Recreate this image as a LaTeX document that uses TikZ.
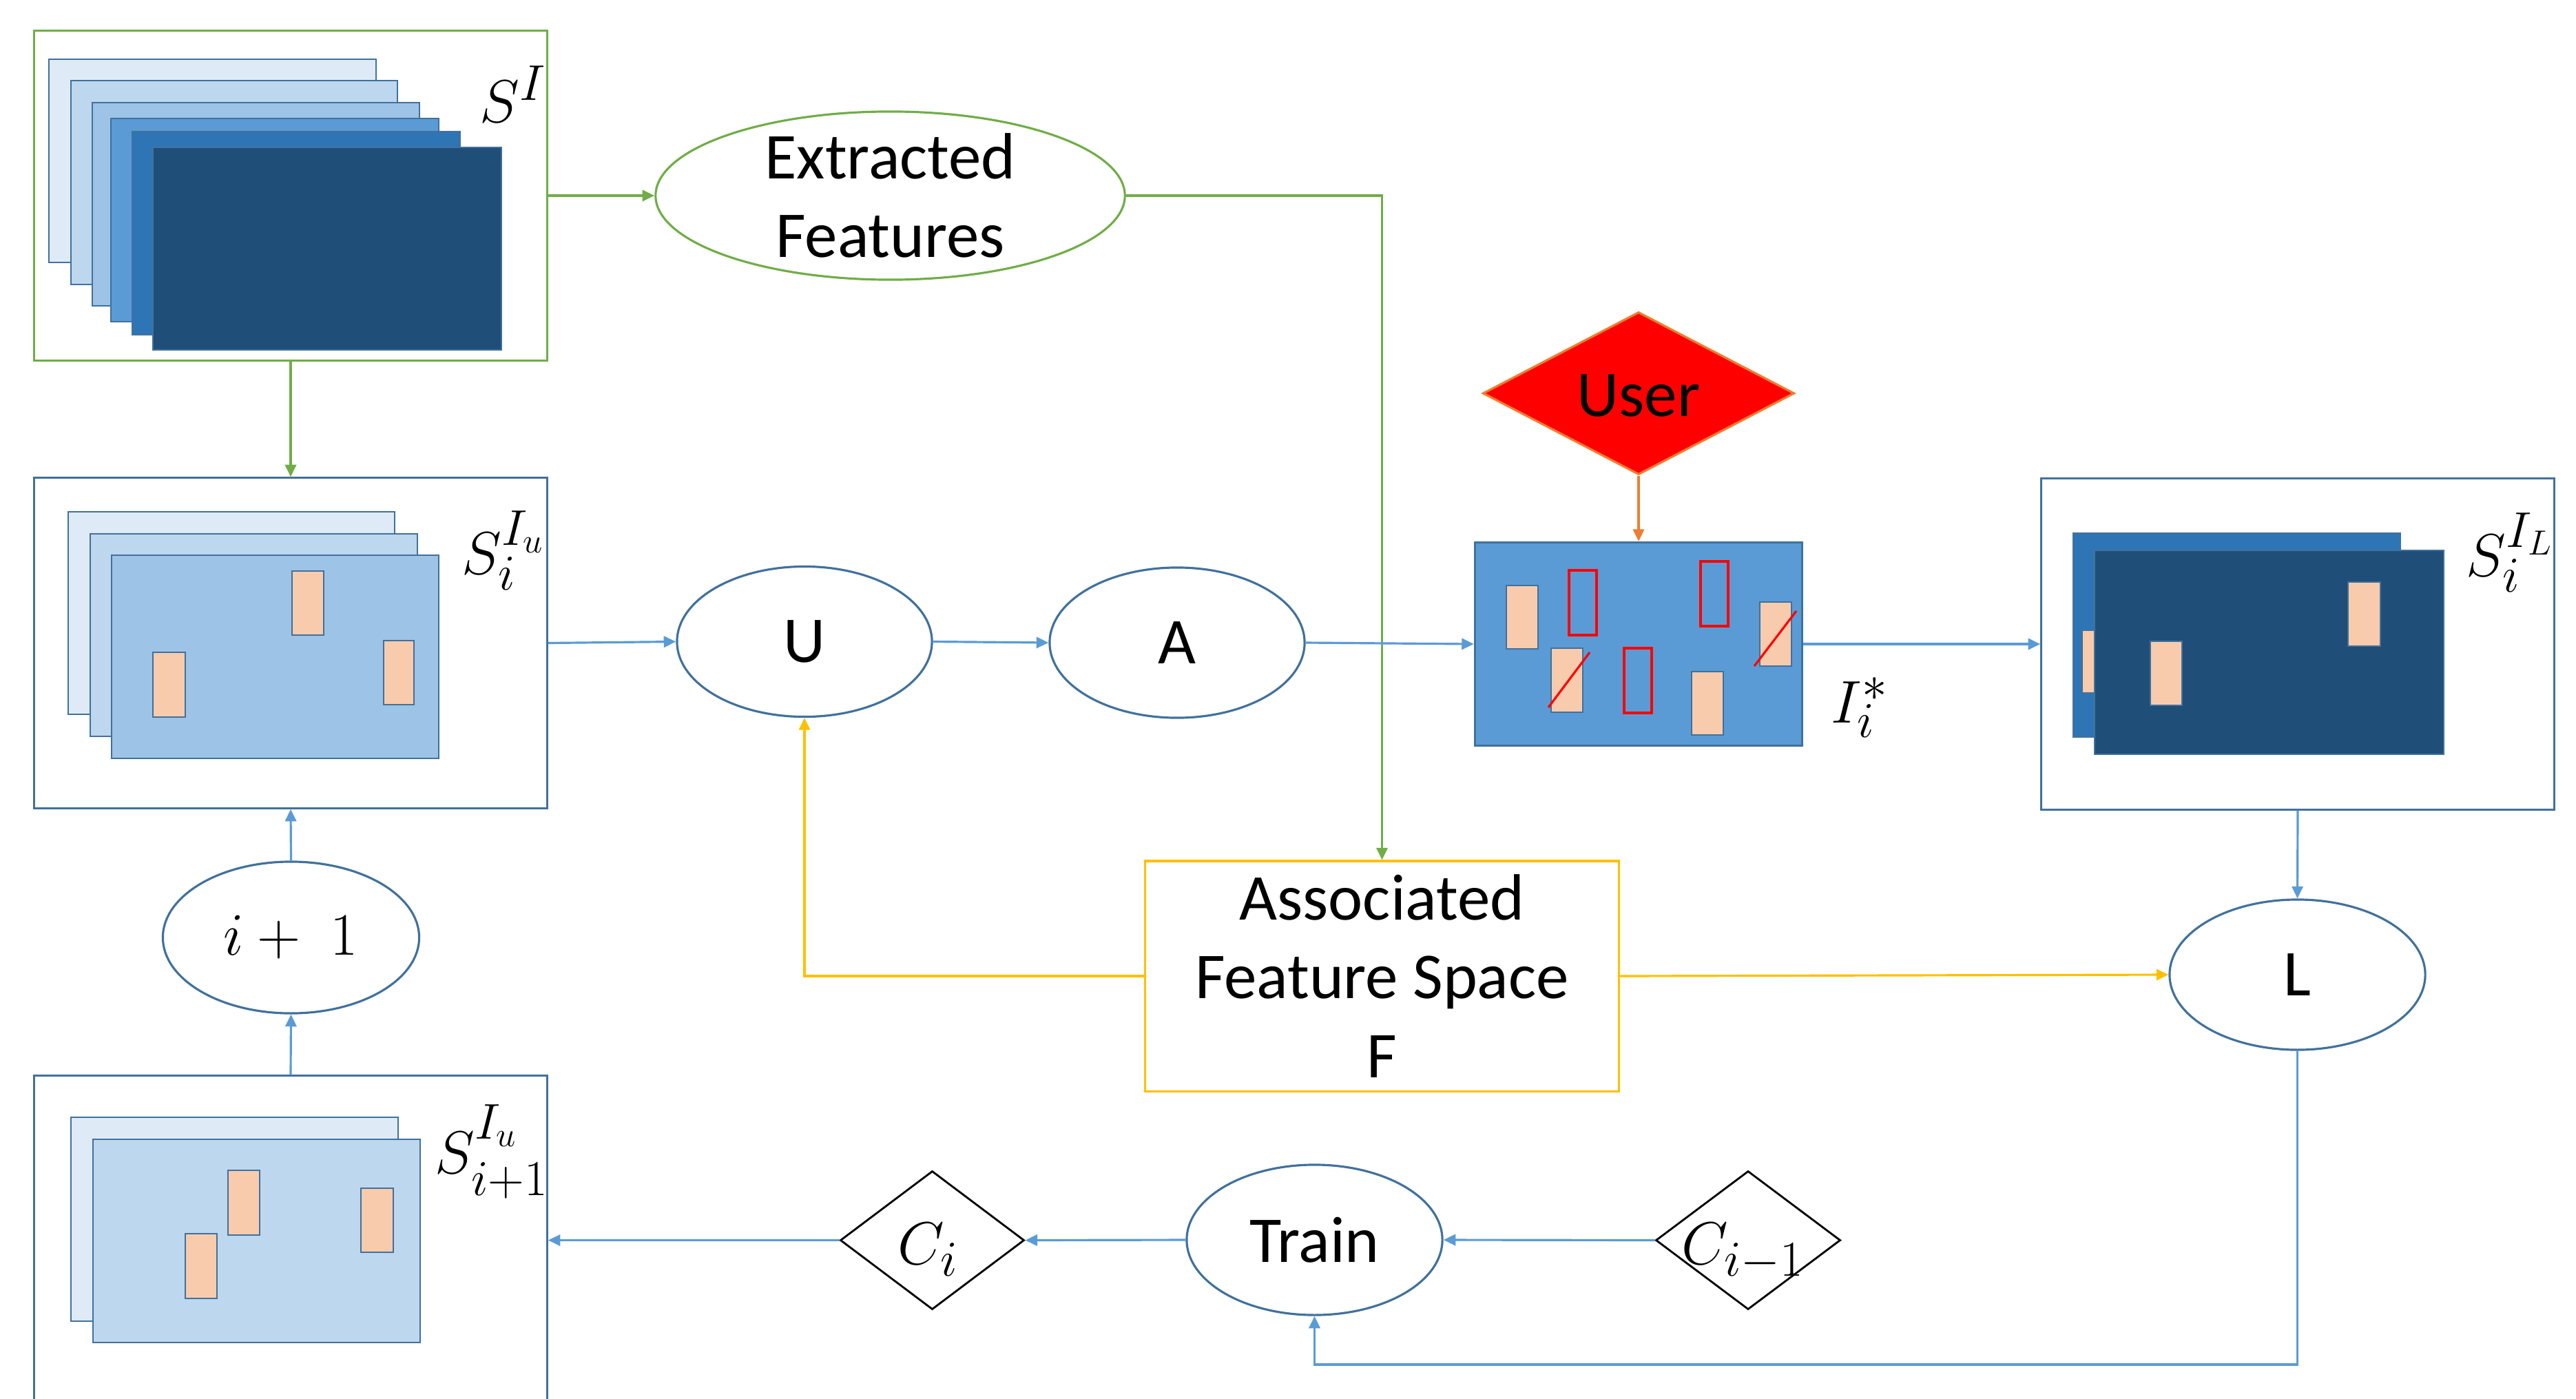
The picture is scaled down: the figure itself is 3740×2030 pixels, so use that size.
\documentclass[tikz,border=0pt]{standalone}
\usepackage{fontspec}
\usepackage{graphicx}
\newfontfamily\calib{Carlito}
\DeclareMathSizes{26}{26}{20}{15}
\usetikzlibrary{shapes.geometric,arrows.meta}
\definecolor{cgreen}{HTML}{70AD47}
\definecolor{cblue}{HTML}{5B9BD5}
\definecolor{cdark}{HTML}{41719C}
\definecolor{cgold}{HTML}{FFC000}
\definecolor{corange}{HTML}{ED7D31}
\definecolor{sa}{HTML}{DEEBF7}
\definecolor{sb}{HTML}{BDD7EE}
\definecolor{sc}{HTML}{9DC3E6}
\definecolor{sd}{HTML}{5B9BD5}
\definecolor{se}{HTML}{2E75B6}
\definecolor{sf}{HTML}{1F4E79}
\definecolor{peach}{HTML}{F8CBAD}
\tikzset{
  frame/.style={rectangle, draw, line width=0.9pt, inner sep=0pt},
  ell/.style={ellipse, draw=cdark, line width=0.9pt, inner sep=0pt},
  txt/.style={inner sep=0pt, align=center, font={\calib\fontsize{27}{32.5}\selectfont}},
  lbl/.style={inner sep=0pt, font={\fontsize{26}{31}\selectfont}},
  conn/.style={line width=0.9pt, -{Triangle[length=5pt,width=4.6pt]}},
  sheet/.style={draw=cdark, line width=0.7pt},
  tag/.style={fill=peach, draw=cdark, line width=0.7pt},
  redbox/.style={draw=red, line width=0.9pt},
  cdiam/.style={diamond, draw=black, line width=0.8pt, inner sep=0pt}
}
\begin{document}
\begin{tikzpicture}[x=0.01cm,y=-0.01cm]
\useasboundingbox (0,0) rectangle (3740,2030);
\clip (0,0) rectangle (3740,2030);

% ---------- S^I box ----------
\node[frame, draw=cgreen, minimum width=74.4mm, minimum height=47.8mm] (SI) at (422,284) {};
\filldraw[sheet, fill=sa] (71,86) rectangle (546,381);
\filldraw[sheet, fill=sb] (103,117) rectangle (577,413);
\filldraw[sheet, fill=sc] (134,149) rectangle (609,444);
\filldraw[sheet, fill=sd] (161,172) rectangle (637,467);
\filldraw[sheet, fill=se] (192,191) rectangle (668,486);
\filldraw[sheet, fill=sf] (222,214) rectangle (728,508);
\node[lbl, anchor=base west] (SIlab) at (696,177) {$S^{I}$};

% ---------- S_i^{I_u} box ----------
\node[frame, draw=cdark, minimum width=74.4mm, minimum height=47.9mm] (SIu) at (422,933.5) {};
\filldraw[sheet, fill=sa] (99,743) rectangle (573,1037);
\filldraw[sheet, fill=sb] (131,775) rectangle (606,1069);
\filldraw[sheet, fill=sc] (162,806) rectangle (637,1101);
\filldraw[tag] (424,829) rectangle (470,922);
\filldraw[tag] (222,947) rectangle (269,1041);
\filldraw[tag] (557,930) rectangle (601,1023);
\node[lbl, anchor=base west] (SIulab) at (670,833) {$S_i^{I_u}$};

% ---------- i+1 ----------
\node[ell, minimum width=37.2mm, minimum height=22mm] (inc) at (422.5,1361) {};
\node[lbl] (inclab) at (inc.center) {$i+\;1$};

% ---------- S_{i+1}^{I_u} box ----------
\node[frame, draw=cdark, minimum width=74.4mm, minimum height=49.8mm] (SIu1) at (422,1811) {};
\filldraw[sheet, fill=sa] (103,1622) rectangle (578,1918);
\filldraw[sheet, fill=sb] (135,1654) rectangle (610,1949);
\filldraw[tag] (331,1699) rectangle (377,1793);
\filldraw[tag] (269,1791) rectangle (315,1885);
\filldraw[tag] (524,1725) rectangle (571,1818);
\node[lbl, anchor=base west] (SIu1lab) at (631,1703)
  {$S^{\raisebox{5pt}{$\scriptstyle I_u$}}_{\raisebox{-3pt}{$\scriptstyle i+1$}}$};

% ---------- Extracted features ----------
\node[ell, draw=cgreen, minimum width=68.1mm, minimum height=24.4mm] (EF) at (1292.5,284) {};
\node[txt] (EFt) at (EF.center) {Extracted\\Features};

% ---------- U, A ----------
\node[ell, minimum width=37mm, minimum height=21.8mm] (U) at (1168,931.5) {};
\node[txt] (Ut) at (U.center) {U};
\node[ell, minimum width=37mm, minimum height=21.8mm] (A) at (1709,933) {};
\node[txt] (At) at (A.center) {A};

% ---------- User ----------
\node[diamond, fill=red, draw=corange, line width=0.9pt, inner sep=0pt,
      minimum width=45.2mm, minimum height=23.6mm] (User) at (2379,571) {};
\node[txt] (Usert) at (2379,574) {User};

% ---------- I_i^* ----------
\node[rectangle, fill=sd, draw=cdark, line width=0.9pt, inner sep=0pt,
      minimum width=47.5mm, minimum height=29.5mm] (Istar) at (2379,935) {};
\filldraw[tag] (2187,850) rectangle (2233,942);
\filldraw[tag] (2252,941) rectangle (2298,1034);
\filldraw[tag] (2456,975) rectangle (2502,1067);
\filldraw[tag] (2555,874) rectangle (2601,967);
\draw[redbox] (2278,828) rectangle (2318,922);
\draw[redbox] (2469,815) rectangle (2509,909);
\draw[redbox] (2358,941) rectangle (2398,1035);
\draw[red, line width=0.9pt] (2248,1027) -- (2308,947);
\draw[red, line width=0.9pt] (2547,967) -- (2608,887);
\node[lbl, anchor=base west] (Istarlab) at (2658,1049) {$I_i^{*}$};

% ---------- S_i^{I_L} box ----------
\node[frame, draw=cdark, minimum width=74.4mm, minimum height=48mm] (SIL) at (3336,935) {};
\filldraw[sheet, fill=se] (3010,774) rectangle (3485,1070);
\filldraw[tag] (3023,915) rectangle (3069,1006);
\filldraw[sheet, fill=sf] (3041,799) rectangle (3548,1095);
\filldraw[tag] (3122,931) rectangle (3168,1024);
\filldraw[tag] (3409,845) rectangle (3456,938);
\node[lbl, anchor=base west] (SILlab) at (3580,836) {$S_i^{I_L}$};

% ---------- Associated Feature Space ----------
\node[frame, draw=cgold, minimum width=68.7mm, minimum height=33.4mm] (AFS) at (2006.5,1417) {};
\node[txt] (AFSt) at (AFS.center) {Associated\\Feature Space\\F};

% ---------- L ----------
\node[ell, minimum width=37.1mm, minimum height=21.8mm] (L) at (3335.5,1415) {};
\node[txt] (Lt) at (L.center) {L};

% ---------- Train, C_i, C_{i-1} ----------
\node[ell, minimum width=37.1mm, minimum height=21.8mm] (Train) at (1908.5,1800) {};
\node[txt] (Traint) at (Train.center) {Train};
\node[cdiam, minimum width=26.7mm, minimum height=20.1mm] (Ci) at (1353.5,1800.5) {};
\node[lbl, anchor=base west] (Cilab) at (1303,1835) {$C_i$};
\node[cdiam, minimum width=26.8mm, minimum height=20.1mm] (Cim) at (2538,1800.5) {};
\node[lbl, anchor=base west] (Cimlab) at (2441,1835) {$C_{i-1}$};

% ---------- connectors ----------
\draw[conn, cgreen] (SI.east) -- (EF.west);
\draw[conn, cgreen] (EF.east) -| (AFS.north);
\draw[conn, cgreen] (SI.south) -- (SIu.north);
\draw[conn, cblue] (SIu.east) -- (U.west);
\draw[conn, cblue] (U.east) -- (A.west);
\draw[conn, cblue] (A.east) -- (Istar.west);
\draw[conn, corange] (User.south) -- (Istar.north);
\draw[conn, cblue] (Istar.east) -- (SIL.west);
\draw[conn, cblue] (SIL.south) -- (L.north);
\draw[conn, cgold] (AFS.west) -| (U.south);
\draw[conn, cgold] (AFS.east) -- (L.west);
\coordinate (Lbot) at (3335.5,1981);
\draw[conn, cblue] (L.south) -- (Lbot) -| (Train.south);
\draw[conn, cblue] (Cim.west) -- (Train.east);
\draw[conn, cblue] (Train.west) -- (Ci.east);
\draw[conn, cblue] (Ci.west) -- (Ci.west -| SIu1.east);
\draw[conn, cblue] (SIu1.north) -- (inc.south);
\draw[conn, cblue] (inc.north) -- (SIu.south);
\end{tikzpicture}
\end{document}
